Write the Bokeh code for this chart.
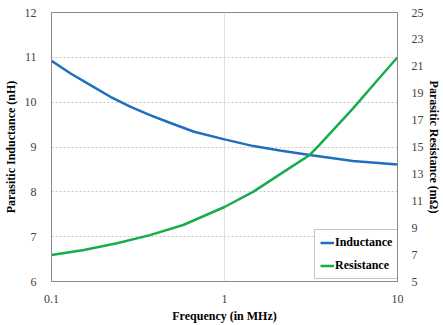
from bokeh.plotting import figure
from bokeh.models import Range1d, LinearAxis, FixedTicker, Legend, LegendItem
from bokeh.embed import file_html
from bokeh.resources import INLINE

freq_l = [0.1, 0.129, 0.168, 0.219, 0.285, 0.371, 0.483, 0.667, 1.0, 1.47, 2.09, 3.11, 5.52, 10]
inductance = [10.92, 10.64, 10.38, 10.12, 9.90, 9.71, 9.54, 9.34, 9.17, 9.02, 8.92, 8.82, 8.69, 8.61]

freq_r = [0.1, 0.154, 0.239, 0.371, 0.577, 1.0, 1.47, 2.29, 3.11, 3.56, 5.52, 7.52, 10]
resistance = [6.97, 7.34, 7.84, 8.45, 9.20, 10.54, 11.68, 13.3, 14.41, 15.2, 17.85, 19.85, 21.67]

x_ticks = [0.1, 1, 10]
left_ticks = [6, 7, 8, 9, 10, 11, 12]
right_ticks = [5, 7, 9, 11, 13, 15, 17, 19, 21, 23, 25]

FONT = "Liberation Serif"
TICK_COL = "#404040"
FRAME_COL = "#8a8a8a"

p = figure(width=443, height=325, x_axis_type="log",
           x_range=Range1d(0.1, 10), y_range=Range1d(6, 12),
           output_backend="svg", toolbar_location=None,
           min_border_left=50, min_border_right=45,
           min_border_top=12, min_border_bottom=43)
p.extra_y_ranges = {"r": Range1d(5, 25)}

p.outline_line_color = FRAME_COL
p.outline_line_width = 1

xa = p.xaxis[0]
xa.ticker = FixedTicker(ticks=x_ticks)
xa.major_label_overrides = {0.1: "0.1", 1: "1", 10: "10"}
xa.axis_label = "Frequency (in MHz)"

ya = p.yaxis[0]
ya.ticker = FixedTicker(ticks=left_ticks)
ya.axis_label = "Parasitic Inductance (nH)"

ra = LinearAxis(y_range_name="r", ticker=FixedTicker(ticks=right_ticks),
                axis_label="Parasitic Resistance (mΩ)")
p.add_layout(ra, "right")

for ax in [xa, ya, ra]:
    ax.axis_line_color = FRAME_COL
    ax.major_tick_line_color = None
    ax.minor_tick_line_color = None
    ax.major_label_text_font = FONT
    ax.major_label_text_font_size = "12px"
    ax.major_label_text_color = TICK_COL
    ax.axis_label_text_font = FONT
    ax.axis_label_text_font_size = "12px"
    ax.axis_label_text_font_style = "bold"
    ax.axis_label_text_color = "#000000"

ya.major_label_standoff = 9
ya.axis_label_standoff = 4
ra.major_label_standoff = 8
ra.axis_label_standoff = 0
xa.major_label_standoff = 7
xa.axis_label_standoff = 3

p.ygrid.ticker = FixedTicker(ticks=left_ticks)
p.ygrid.grid_line_color = "#c8c8c8"
p.ygrid.grid_line_dash = "2 2"
p.ygrid.grid_line_width = 1
p.xgrid.ticker = FixedTicker(ticks=[1])
p.xgrid.grid_line_color = "#e2e2e2"
p.xgrid.grid_line_width = 1

l1 = p.line(freq_l, inductance, line_color="#1f6fbe", line_width=2.5)
l2 = p.line(freq_r, resistance, line_color="#16ad4e", line_width=2.5, y_range_name="r")

legend = Legend(items=[LegendItem(label="Inductance", renderers=[l1]),
                       LegendItem(label="Resistance", renderers=[l2])],
                location=(263, 2))
legend.label_text_font = FONT
legend.label_text_font_size = "12px"
legend.label_text_font_style = "bold"
legend.label_text_color = "#000000"
legend.border_line_color = FRAME_COL
legend.border_line_width = 1
legend.glyph_width = 14
legend.glyph_height = 15
legend.label_height = 15
legend.label_standoff = 1
legend.spacing = 8
legend.padding = 5
legend.margin = 0
legend.background_fill_alpha = 1.0
p.add_layout(legend)

open("out.html", "w").write(file_html(p, INLINE))
